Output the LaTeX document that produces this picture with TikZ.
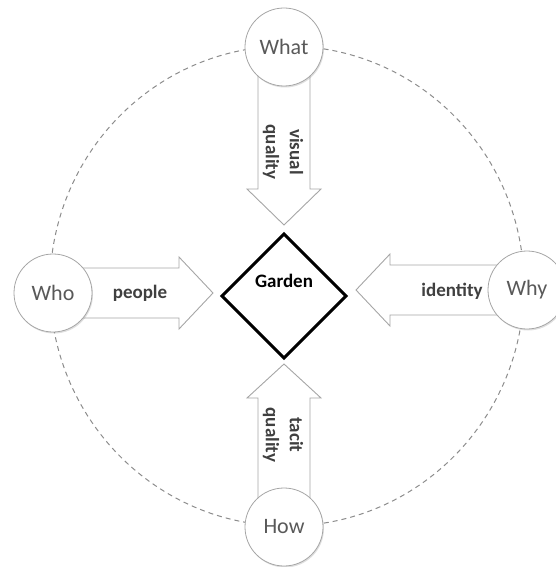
\documentclass[tikz,border=0pt]{standalone}
\usepackage{fontspec}
\setmainfont{Carlito}
\usetikzlibrary{calc,shadows,shapes.geometric}
\definecolor{circEdge}{HTML}{A6A6A6}
\definecolor{arrowEdge}{HTML}{A6A6A6}
\definecolor{dashGray}{HTML}{8C8C8C}
\definecolor{circText}{HTML}{595959}
\definecolor{lblText}{HTML}{404040}
\tikzset{
  qcircle/.style={circle, draw=circEdge, line width=0.8pt, fill=white, minimum size=78pt, inner sep=0pt,
    font=\fontsize{22}{26}\selectfont, text=circText,
    drop shadow={opacity=0.25, shadow xshift=1pt, shadow yshift=-1.5pt}},
  barrow/.style={draw=arrowEdge, fill=white, line width=0.9pt, line join=miter},
  lbl/.style={font=\bfseries\fontsize{19}{24}\selectfont, text=lblText, align=center, inner sep=0pt},
  gbox/.style={diamond, draw=black, line width=3pt, fill=white, minimum width=124pt, minimum height=124pt,
    inner sep=0pt, outer sep=0pt},
  ring/.style={draw=dashGray, line width=1pt, dash pattern=on 5pt off 4pt}
}
\begin{document}
\begin{tikzpicture}[x=1pt,y=-1pt]
\useasboundingbox (0,0) rectangle (555,567);
% dashed ring
\draw[ring] (287,286) ellipse [x radius=237pt, y radius=240pt];
% centre
\node[gbox, label={[lbl, text=black, yshift=15pt]center:Garden}] (g) at (284,296) {};
% tips
\coordinate (tT) at (284,225);
\coordinate (tB) at (284,364);
\coordinate (tL) at (213,293);
\coordinate (tR) at (356,290);
% outer circle positions
\coordinate (pWt) at (284,47);
\coordinate (pHw) at (284,527);
\coordinate (pWo) at (53,293);
\coordinate (pWy) at (527,290);
% block arrows
\draw[barrow] ($(pWt)+(-26,0)$) -- ($(tT)+(-26,-36)$) -- ($(tT)+(-37,-36)$) -- (tT)
  -- ($(tT)+(37,-36)$) -- ($(tT)+(26,-36)$) -- ($(pWt)+(26,0)$) -- cycle;
\draw[barrow] ($(pHw)+(-26,0)$) -- ($(tB)+(-26,34)$) -- ($(tB)+(-37,34)$) -- (tB)
  -- ($(tB)+(37,34)$) -- ($(tB)+(26,34)$) -- ($(pHw)+(26,0)$) -- cycle;
\draw[barrow] ($(pWo)+(0,-25)$) -- ($(tL)+(-34,-25)$) -- ($(tL)+(-34,-36)$) -- (tL)
  -- ($(tL)+(-34,36)$) -- ($(tL)+(-34,25)$) -- ($(pWo)+(0,25)$) -- cycle;
\draw[barrow] ($(pWy)+(0,-25)$) -- ($(tR)+(34,-25)$) -- ($(tR)+(34,-36)$) -- (tR)
  -- ($(tR)+(34,36)$) -- ($(tR)+(34,25)$) -- ($(pWy)+(0,25)$) -- cycle;
% arrow labels
\node[lbl, rotate=-90] (lv) at (283,152) {visual\\quality};
\node[lbl, rotate=-90] (lt) at (283,435) {tacit\\quality};
\node[lbl] (lp) at (140,293) {people};
\node[lbl] (li) at (452,291) {identity};
% outer circles
\node[qcircle] (wt) at (pWt) {What};
\node[qcircle] (hw) at (pHw) {How};
\node[qcircle] (wo) at (pWo) {Who};
\node[qcircle] (wy) at (pWy) {Why};
\end{tikzpicture}
\end{document}
